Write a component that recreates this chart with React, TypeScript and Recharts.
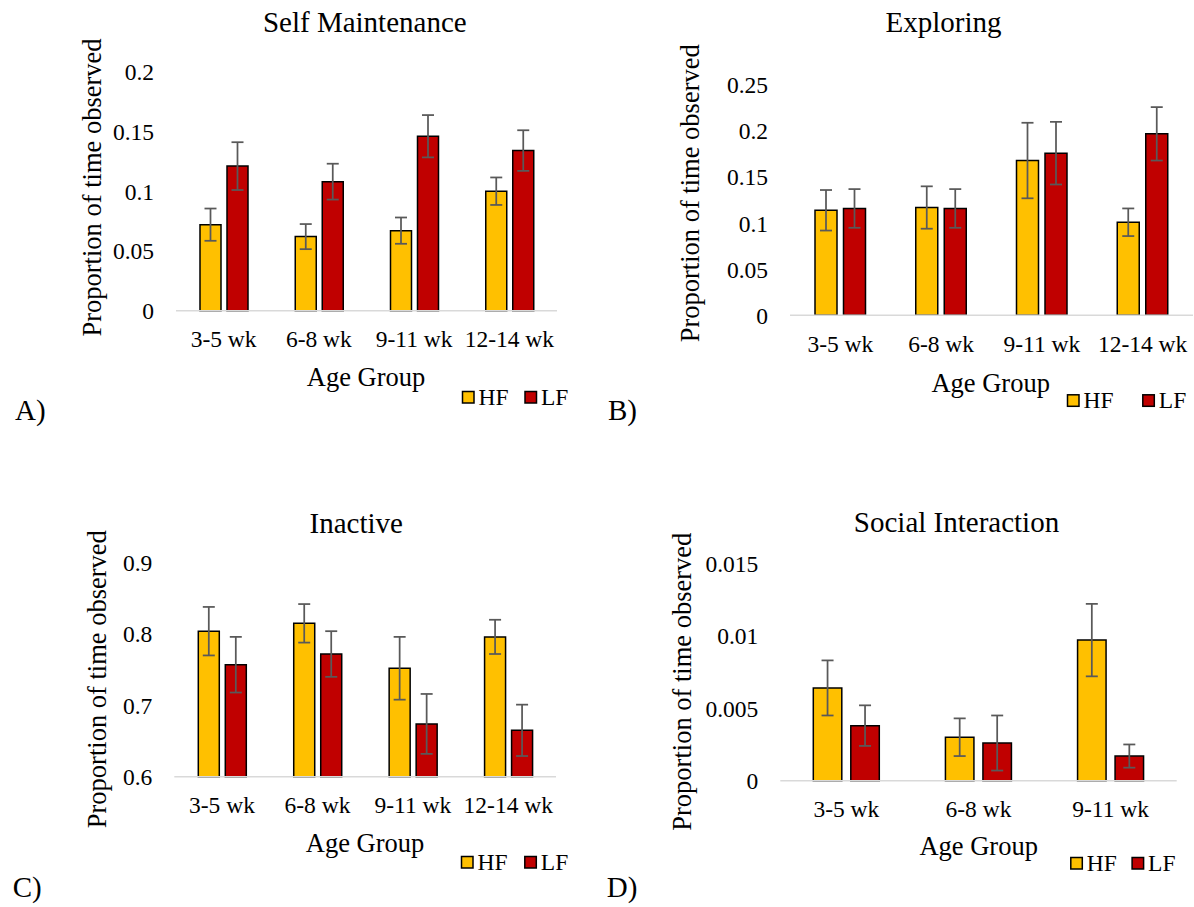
import { BarChart, Bar, XAxis, YAxis, ErrorBar } from 'recharts'

const FONT = "'Liberation Serif', 'Times New Roman', Times, serif"
const HF_COLOR = '#FFC000'
const LF_COLOR = '#C00000'
const ERR_COLOR = '#595959'
const AXIS_COLOR = '#d9d9d9'

const AGE_GROUPS = ['3-5 wk', '6-8 wk', '9-11 wk', '12-14 wk']
const SOCIAL_AGE_GROUPS = ['3-5 wk', '6-8 wk', '9-11 wk']

// A) self maintenance
const SELF_HF = [0.072, 0.062, 0.067, 0.1]
const SELF_HF_ERR = [0.0135, 0.0105, 0.011, 0.0115]
const SELF_LF = [0.121, 0.108, 0.146, 0.134]
const SELF_LF_ERR = [0.02, 0.015, 0.0177, 0.017]
const SELF_TICKS = [0, 0.05, 0.1, 0.15, 0.2]

// B) exploring
const EXPLORE_HF = [0.114, 0.117, 0.168, 0.101]
const EXPLORE_HF_ERR = [0.022, 0.023, 0.041, 0.015]
const EXPLORE_LF = [0.116, 0.116, 0.176, 0.197]
const EXPLORE_LF_ERR = [0.021, 0.021, 0.034, 0.029]
const EXPLORE_TICKS = [0, 0.05, 0.1, 0.15, 0.2, 0.25]

// C) inactive
const INACTIVE_HF = [0.804, 0.815, 0.752, 0.796]
const INACTIVE_HF_ERR = [0.034, 0.027, 0.044, 0.024]
const INACTIVE_LF = [0.757, 0.772, 0.674, 0.665]
const INACTIVE_LF_ERR = [0.039, 0.032, 0.042, 0.036]
const INACTIVE_TICKS = [0.6, 0.7, 0.8, 0.9]

// D) social interaction
const SOCIAL_HF = [0.0064, 0.003, 0.0097]
const SOCIAL_HF_ERR = [0.0019, 0.0013, 0.0025]
const SOCIAL_LF = [0.0038, 0.0026, 0.0017]
const SOCIAL_LF_ERR = [0.0014, 0.0019, 0.0008]
const SOCIAL_TICKS = [0, 0.005, 0.01, 0.015]

type Box = {
  left: number
  top: number
  width: number
  height: number
  margin: { top: number; right: number; bottom: number; left: number }
  yAxisWidth: number
  barSize: number
  barGap: number
  title: [number, number]
  letter: [number, number]
  yTitle: [number, number]
  xTitle: [number, number]
  legend: { y: number; hf: number; lf: number }
}

type PanelProps = {
  title: string
  letter: string
  groups: string[]
  hf: number[]
  hfErr: number[]
  lf: number[]
  lfErr: number[]
  ticks: number[]
  box: Box
}

// recharts hands us the label anchor point; draw the text ourselves so the serif face sticks
const XTick = ({ x, y, payload }: any) => (
  <text x={x} y={y} dy="0.71em" textAnchor="middle" fontSize={23.5} fill="#000"
    fontFamily={FONT} style={{ fontFamily: FONT }}>
    {payload.value}
  </text>
)

const YTick = ({ x, y, payload }: any) => (
  <text x={x} y={y} dy="0.355em" textAnchor="end" fontSize={23.5} fill="#000"
    fontFamily={FONT} style={{ fontFamily: FONT }}>
    {String(payload.value)}
  </text>
)

function LegendItem({ x, y, color, label }: { x: number; y: number; color: string; label: string }) {
  return (
    <g>
      <rect x={x} y={y - 13} width={11.5} height={11.5} fill={color} stroke="#000" strokeWidth={1.5} />
      <text x={x + 16} y={y} fontSize={23.5} fill="#000">{label}</text>
    </g>
  )
}

function Panel({ title, letter, groups, hf, hfErr, lf, lfErr, ticks, box }: PanelProps) {
  const data = groups.map((group, i) => ({
    group,
    hf: hf[i],
    hfErr: hfErr[i],
    lf: lf[i],
    lfErr: lfErr[i],
  }))
  const [yx, yy] = box.yTitle

  return (
    <div style={{ position: 'absolute', left: box.left, top: box.top, width: box.width, height: box.height }}>
      <BarChart
        width={box.width}
        height={box.height}
        data={data}
        margin={box.margin}
        barSize={box.barSize}
        barGap={box.barGap}
      >
        <XAxis
          dataKey="group"
          height={40}
          interval={0}
          tickLine={false}
          tickSize={0}
          tickMargin={20}
          axisLine={{ stroke: AXIS_COLOR, strokeWidth: 1.5 }}
          tick={<XTick />}
        />
        <YAxis
          width={box.yAxisWidth}
          domain={[ticks[0], ticks[ticks.length - 1]]}
          ticks={ticks}
          interval={0}
          axisLine={false}
          tickLine={false}
          tickSize={0}
          tickMargin={22}
          tick={<YTick />}
        />
        <Bar dataKey="hf" name="HF" fill={HF_COLOR} stroke="#000" strokeWidth={1.5} isAnimationActive={false}>
          <ErrorBar dataKey="hfErr" width={6} stroke={ERR_COLOR} strokeWidth={1.75} />
        </Bar>
        <Bar dataKey="lf" name="LF" fill={LF_COLOR} stroke="#000" strokeWidth={1.5} isAnimationActive={false}>
          <ErrorBar dataKey="lfErr" width={6} stroke={ERR_COLOR} strokeWidth={1.75} />
        </Bar>
      </BarChart>
      <svg
        width={box.width}
        height={box.height}
        style={{ position: 'absolute', left: 0, top: 0, pointerEvents: 'none' }}
        fontFamily={FONT}
      >
        <text x={box.title[0]} y={box.title[1]} textAnchor="middle" fontSize={29} fill="#000">{title}</text>
        <text x={box.letter[0]} y={box.letter[1]} fontSize={29} fill="#000">{letter}</text>
        <text
          x={yx}
          y={yy}
          transform={`rotate(-90 ${yx} ${yy})`}
          textAnchor="middle"
          dominantBaseline="central"
          fontSize={26.5}
          fill="#000"
        >
          Proportion of time observed
        </text>
        <text x={box.xTitle[0]} y={box.xTitle[1]} textAnchor="middle" fontSize={26.5} fill="#000">Age Group</text>
        <LegendItem x={box.legend.hf} y={box.legend.y} color={HF_COLOR} label="HF" />
        <LegendItem x={box.legend.lf} y={box.legend.y} color={LF_COLOR} label="LF" />
      </svg>
    </div>
  )
}

const BOX_A: Box = {
  left: 0, top: 0, width: 597, height: 453,
  margin: { top: 71.7, right: 40, bottom: 102.3, left: 0 },
  yAxisWidth: 176, barSize: 21, barGap: 6,
  title: [364.8, 31.5], letter: [15, 419.5], yTitle: [92.3, 187.5], xTitle: [366, 385.7],
  legend: { y: 404.5, hf: 462.5, lf: 525 },
}

const BOX_B: Box = {
  left: 597, top: 0, width: 597, height: 453,
  margin: { top: 85, right: 1, bottom: 97.7, left: 0 },
  yAxisWidth: 193, barSize: 22, barGap: 6.5,
  title: [346.5, 32.3], letter: [11, 419.5], yTitle: [93, 193.3], xTitle: [393.7, 391.7],
  legend: { y: 407.8, hf: 470.5, lf: 545.8 },
}

const BOX_C: Box = {
  left: 0, top: 453, width: 597, height: 454,
  margin: { top: 109.7, right: 41, bottom: 90.3, left: 0 },
  yAxisWidth: 174.3, barSize: 21, barGap: 6,
  title: [356.3, 80.3], letter: [12.7, 443.5], yTitle: [97.3, 226.2], xTitle: [365, 399],
  legend: { y: 416.5, hf: 461.5, lf: 524.8 },
}

const BOX_D: Box = {
  left: 597, top: 453, width: 597, height: 454,
  margin: { top: 110.3, right: 17.3, bottom: 86.3, left: 0 },
  yAxisWidth: 183.3, barSize: 28.5, barGap: 9,
  title: [359.5, 78.7], letter: [9.7, 443.5], yTitle: [84.7, 228.7], xTitle: [381.7, 402.4],
  legend: { y: 417.5, hf: 473.8, lf: 535.1 },
}

export default function App() {
  return (
    <div style={{ position: 'absolute', left: 0, top: 0, width: 1194, height: 907, background: '#fff', fontFamily: FONT }}>
      <Panel title="Self Maintenance" letter="A)" groups={AGE_GROUPS}
        hf={SELF_HF} hfErr={SELF_HF_ERR} lf={SELF_LF} lfErr={SELF_LF_ERR} ticks={SELF_TICKS} box={BOX_A} />
      <Panel title="Exploring" letter="B)" groups={AGE_GROUPS}
        hf={EXPLORE_HF} hfErr={EXPLORE_HF_ERR} lf={EXPLORE_LF} lfErr={EXPLORE_LF_ERR} ticks={EXPLORE_TICKS} box={BOX_B} />
      <Panel title="Inactive" letter="C)" groups={AGE_GROUPS}
        hf={INACTIVE_HF} hfErr={INACTIVE_HF_ERR} lf={INACTIVE_LF} lfErr={INACTIVE_LF_ERR} ticks={INACTIVE_TICKS} box={BOX_C} />
      <Panel title="Social Interaction" letter="D)" groups={SOCIAL_AGE_GROUPS}
        hf={SOCIAL_HF} hfErr={SOCIAL_HF_ERR} lf={SOCIAL_LF} lfErr={SOCIAL_LF_ERR} ticks={SOCIAL_TICKS} box={BOX_D} />
    </div>
  )
}
